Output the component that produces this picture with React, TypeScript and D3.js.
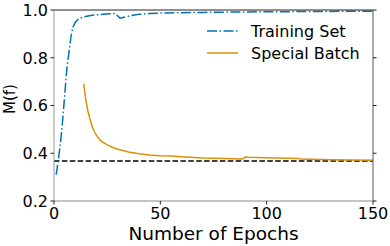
import React from "react";
import * as d3 from "d3";

const trainEpochs = [1, 2, 3, 4, 5, 6, 7, 8, 9, 10, 11, 12, 14, 16, 18, 20, 23, 26, 29, 30, 31, 33, 36, 40, 45, 50, 60, 70, 80, 90, 100, 110, 120, 130, 140, 150];
const trainValues = [0.31, 0.37, 0.44, 0.53, 0.64, 0.75, 0.82, 0.89, 0.93, 0.948, 0.958, 0.965, 0.971, 0.975, 0.978, 0.98, 0.982, 0.984, 0.985, 0.975, 0.966, 0.97, 0.976, 0.982, 0.985, 0.987, 0.989, 0.99, 0.991, 0.992, 0.993, 0.993, 0.994, 0.994, 0.995, 0.995];

const batchEpochs = [14, 15, 16, 17, 18, 19, 20, 22, 25, 28, 30, 35, 40, 45, 50, 55, 60, 70, 80, 88, 89, 90, 91, 95, 100, 110, 115, 116, 120, 130, 140, 150];
const batchValues = [0.69, 0.62, 0.575, 0.54, 0.51, 0.49, 0.475, 0.452, 0.435, 0.423, 0.417, 0.405, 0.398, 0.393, 0.39, 0.388, 0.385, 0.38, 0.378, 0.376, 0.377, 0.385, 0.383, 0.382, 0.381, 0.379, 0.378, 0.376, 0.375, 0.373, 0.372, 0.371];

const baseline = 1 / Math.E;
const xTicks = [0, 50, 100, 150];
const yTicks = [0.2, 0.4, 0.6, 0.8, 1.0];
const legendLabels = ["Training Set", "Special Batch"];

const BLUE = "#0173b2";
const ORANGE = "#de8f05";
const FONT = "DejaVu Sans";

export default function App() {
  const left = 54, right = 373, top = 10, bottom = 201;
  const x = d3.scaleLinear().domain([0, 150]).range([left, right]);
  const y = d3.scaleLinear().domain([0.2, 1.0]).range([bottom, top]);
  const line = d3.line<[number, number]>().x(d => x(d[0])).y(d => y(d[1]));
  const trainPts = trainEpochs.map((e, i) => [e, trainValues[i]] as [number, number]);
  const batchPts = batchEpochs.map((e, i) => [e, batchValues[i]] as [number, number]);
  const dashDot = "10,2.5,1.5,2.5";
  return (
    <svg width={390} height={246} style={{ position: "absolute", left: 0, top: 0, background: "#fff" }} fontFamily={FONT}>
      <defs>
        <clipPath id="plot"><rect x={left} y={top} width={right - left} height={bottom - top} /></clipPath>
      </defs>
      <g clipPath="url(#plot)">
        <line x1={x(0)} x2={x(150)} y1={y(baseline)} y2={y(baseline)} stroke="#000" strokeWidth={1.5} strokeDasharray="5.5,2.4" />
        <path d={line(batchPts) || ""} fill="none" stroke={ORANGE} strokeWidth={1.5} />
        <path d={line(trainPts) || ""} fill="none" stroke={BLUE} strokeWidth={1.5} strokeDasharray={dashDot} />
      </g>
      {/* spines */}
      <line x1={left} x2={left} y1={top} y2={bottom} stroke="#999" strokeWidth={1} />
      <line x1={left} x2={right} y1={bottom} y2={bottom} stroke="#888" strokeWidth={1} />
      <line x1={left} x2={right} y1={top} y2={top} stroke="#222" strokeWidth={1} />
      <line x1={right} x2={right} y1={top} y2={bottom} stroke="#555" strokeWidth={1} />
      {yTicks.map(t => (
        <g key={"y" + t}>
          <line x1={left - 3.5} x2={left} y1={y(t)} y2={y(t)} stroke="#222" />
          <line x1={right} x2={right + 3.5} y1={y(t)} y2={y(t)} stroke="#222" />
          <text x={left - 6} y={y(t)} dy="0.36em" textAnchor="end" fontSize={16} fill="#000">{t.toFixed(1)}</text>
        </g>
      ))}
      {xTicks.map(t => (
        <g key={"x" + t}>
          <line x1={x(t)} x2={x(t)} y1={bottom} y2={bottom + 3.5} stroke="#222" />
          <text x={x(t)} y={219} textAnchor="middle" fontSize={16} fill="#000">{t}</text>
        </g>
      ))}
      <text x={(left + right) / 2} y={240} textAnchor="middle" fontSize={18.5} fill="#000">Number of Epochs</text>
      <text transform={`translate(15,99) rotate(-90)`} textAnchor="middle" fontSize={15} fill="#000">M(f)</text>
      {legendLabels.map((lab, i) => (
        <g key={lab} transform={`translate(0,${31 + i * 22})`}>
          <line x1={207} x2={238} y1={0} y2={0} stroke={i === 0 ? BLUE : ORANGE} strokeWidth={1.5} strokeDasharray={i === 0 ? dashDot : undefined} />
          <text x={251} y={0} dy="0.36em" fontSize={16} fill="#000">{lab}</text>
        </g>
      ))}
    </svg>
  );
}
